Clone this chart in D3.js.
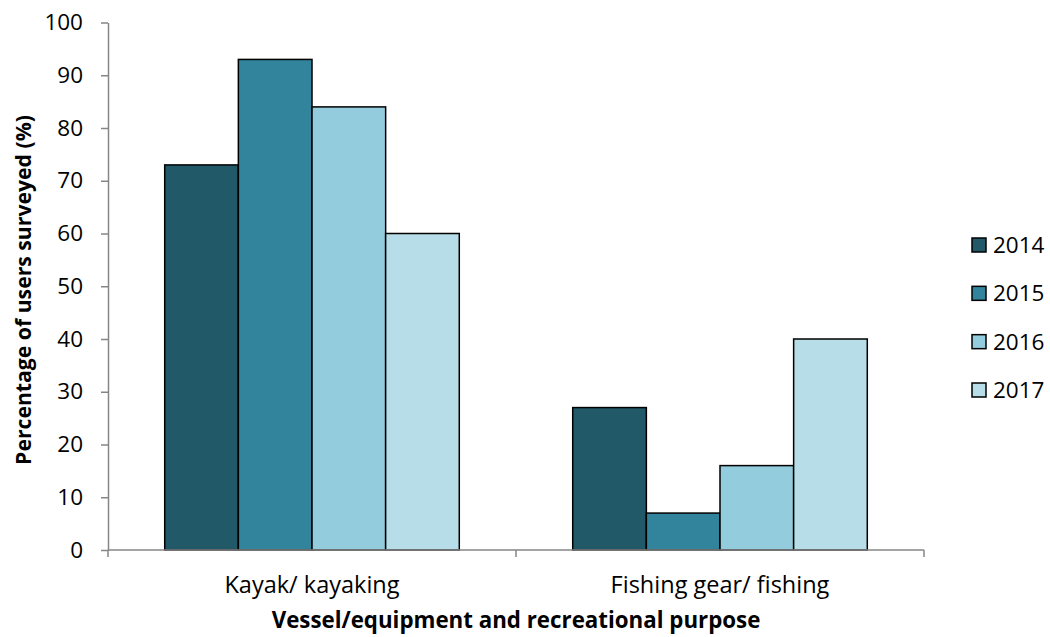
<!DOCTYPE html>
<html>
<head>
<meta charset="utf-8">
<script src="https://cdn.jsdelivr.net/npm/d3@7"></script>
<style>
  html, body { margin: 0; padding: 0; background: #fff; }
  svg { display: block; font-family: "Open Sans", "DejaVu Sans", sans-serif; }
</style>
</head>
<body>
<svg id="chart" width="1050" height="637"></svg>
<script>
// Survey results: share of users by vessel/equipment and recreational purpose
const categories = ["Kayak/ kayaking", "Fishing gear/ fishing"];
const years = ["2014", "2015", "2016", "2017"];
const values2014 = [73, 27];
const values2015 = [93, 7];
const values2016 = [84, 16];
const values2017 = [60, 40];
const yTicks = [0, 10, 20, 30, 40, 50, 60, 70, 80, 90, 100];

const seriesValues = [values2014, values2015, values2016, values2017];
const colors = ["#215968", "#31849b", "#93cddd", "#b7dee8"];

const svg = d3.select("#chart");
const plot = { left: 108, right: 924, top: 22.5, bottom: 550 };

const y = d3.scaleLinear().domain([0, 100]).range([plot.bottom, plot.top]);
const x0 = d3.scaleBand().domain(categories).range([plot.left, plot.right]).padding(0);
const inset = x0.bandwidth() * 0.139;
const x1 = d3.scaleBand().domain(years).range([inset, x0.bandwidth() - inset]).padding(0);

const axisColor = "#868686";

// Bars
const groups = svg.append("g").selectAll("g")
  .data(categories)
  .join("g")
  .attr("transform", d => `translate(${x0(d)},0)`);

groups.selectAll("rect")
  .data((c, ci) => years.map((yr, si) => ({ yr, v: seriesValues[si][ci], si })))
  .join("rect")
  .attr("x", d => x1(d.yr))
  .attr("width", x1.bandwidth())
  .attr("y", d => y(d.v))
  .attr("height", d => y(0) - y(d.v))
  .attr("fill", d => colors[d.si])
  .attr("stroke", "#000")
  .attr("stroke-width", 1.5);

// Y axis
const yAxis = svg.append("g")
  .attr("transform", `translate(${plot.left},0)`)
  .call(d3.axisLeft(y).tickValues(yTicks).tickSize(7).tickPadding(18).tickSizeOuter(0));
yAxis.select(".domain").attr("stroke", axisColor).attr("stroke-width", 1.5);
yAxis.selectAll(".tick line").attr("stroke", axisColor).attr("stroke-width", 1.5);
yAxis.selectAll(".tick text")
  .attr("fill", "#000")
  .style("font-size", "22.5px")
  .style("font-family", "'Open Sans', sans-serif");

// X axis: tick marks at category boundaries, labels centred under each group
const xAxisG = svg.append("g").attr("transform", `translate(0,${plot.bottom})`);
xAxisG.append("line")
  .attr("x1", plot.left).attr("x2", plot.right)
  .attr("stroke", axisColor).attr("stroke-width", 1.5);
const boundaries = categories.map(c => x0(c)).concat([x0(categories[categories.length - 1]) + x0.bandwidth()]);
xAxisG.selectAll("line.tick")
  .data(boundaries)
  .join("line")
  .attr("class", "tick")
  .attr("x1", d => d).attr("x2", d => d)
  .attr("y1", 0).attr("y2", 7)
  .attr("stroke", axisColor).attr("stroke-width", 1.5);
xAxisG.selectAll("text")
  .data(categories)
  .join("text")
  .attr("x", d => x0(d) + x0.bandwidth() / 2)
  .attr("y", 43)
  .attr("text-anchor", "middle")
  .style("font-size", "23.5px")
  .text(d => d);

// Axis titles
svg.append("text")
  .attr("x", (plot.left + plot.right) / 2)
  .attr("y", 628)
  .attr("text-anchor", "middle")
  .style("font-size", "22.3px")
  .style("font-weight", "bold")
  .text("Vessel/equipment and recreational purpose");

svg.append("text")
  .attr("transform", `translate(31,${(113 + 467) / 2}) rotate(-90)`)
  .attr("text-anchor", "middle")
  .style("font-size", "21.2px")
  .style("font-weight", "bold")
  .text("Percentage of users surveyed (%)");

// Legend
const legend = svg.append("g");
const legendY = d3.scalePoint().domain(years).range([245, 390]);
const items = legend.selectAll("g")
  .data(years)
  .join("g")
  .attr("transform", d => `translate(972,${legendY(d)})`);
items.append("rect")
  .attr("x", 0).attr("y", -7)
  .attr("width", 14).attr("height", 14)
  .attr("fill", (d, i) => colors[i])
  .attr("stroke", "#000")
  .attr("stroke-width", 1.5);
items.append("text")
  .attr("x", 21)
  .attr("y", 0)
  .attr("dy", "0.35em")
  .style("font-size", "22.5px")
  .text(d => d);
</script>
</body>
</html>
